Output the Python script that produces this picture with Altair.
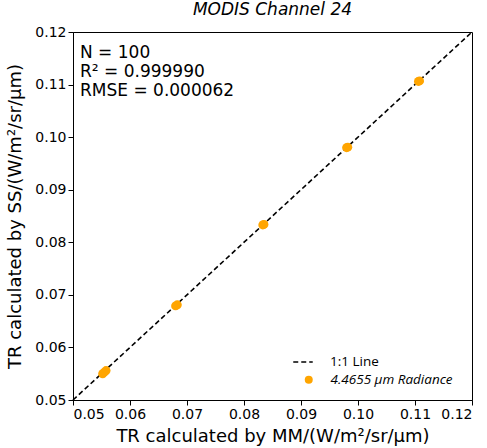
import altair as alt
import pandas as pd

# data
mm_vals = [0.0552, 0.0555, 0.0558, 0.0680, 0.0683, 0.0833, 0.0835, 0.0980, 0.0982, 0.1106, 0.1108]
ss_vals = [0.0550, 0.0553, 0.0556, 0.0679, 0.0681, 0.0833, 0.0834, 0.0980, 0.0981, 0.1106, 0.1107]
line_x = [0.05, 0.12]
stats_lines = ["N = 100", "R² = 0.999990", "RMSE = 0.000062"]
stats_y = [21, 40, 59]
x_ticks = [0.05, 0.06, 0.07, 0.08, 0.09, 0.10, 0.11, 0.12]

pts = pd.DataFrame({"mm": mm_vals, "ss": ss_vals, "series": ["4.4655 μm Radiance"] * len(mm_vals)})
ln = pd.DataFrame({"mm": line_x, "ss": line_x, "series": ["1:1 Line"] * 2})

W, H = 399, 368
xs = alt.Scale(domain=[0.05, 0.12], nice=False, zero=False)
ys = alt.Scale(domain=[0.05, 0.12], nice=False, zero=False)

axis_common = dict(labelFont="DejaVu Sans", labelFontSize=14, labelColor="black",
                   titleFont="DejaVu Sans", titleFontSize=18, titleFontWeight="normal",
                   titleColor="black", domainColor="black", tickColor="black",
                   tickSize=5, grid=False, values=x_ticks, format=".2f")

xenc = alt.X("mm:Q", scale=xs, axis=alt.Axis(title="TR calculated by MM/(W/m²/sr/μm)",
                                              titlePadding=6, **axis_common))
yenc = alt.Y("ss:Q", scale=ys, axis=alt.Axis(title="TR calculated by SS/(W/m²/sr/μm)",
                                              titlePadding=10, **axis_common))

line = alt.Chart(ln).mark_line(color="black", strokeDash=[6, 4], strokeWidth=1.6).encode(
    x=xenc, y=yenc,
    strokeDash=alt.StrokeDash("series:N", scale=alt.Scale(domain=["1:1 Line"], range=[[5, 3]]),
                              legend=alt.Legend(title=None, orient="none", legendX=219, legendY=319,
                                                labelFont="Open Sans", labelFontSize=13.5,
                                                labelColor="black", symbolStrokeColor="black",
                                                symbolStrokeWidth=1.6, symbolSize=380,
                                                labelOffset=16)),
)

points = alt.Chart(pts).mark_circle(size=80, opacity=1).encode(
    x=alt.X("mm:Q", scale=xs), y=alt.Y("ss:Q", scale=ys),
    color=alt.Color("series:N", scale=alt.Scale(domain=["4.4655 μm Radiance"], range=["#FFA500"]),
                    legend=alt.Legend(title=None, orient="none", legendX=229, legendY=341,
                                      labelFont="Open Sans", labelFontSize=13.5, labelColor="black",
                                      labelFontStyle="italic", symbolSize=64, labelOffset=15,
                                      symbolOpacity=1)),
)

texts = [
    alt.Chart(pd.DataFrame({"t": [s]})).mark_text(
        align="left", baseline="middle", font="DejaVu Sans", fontSize=17, color="black"
    ).encode(x=alt.value(7), y=alt.value(yv), text="t:N")
    for s, yv in zip(stats_lines, stats_y)
]

chart = alt.layer(line, points, *texts).properties(
    width=W, height=H,
    title=alt.Title("MODIS Channel 24", font="DejaVu Sans", fontSize=17, fontStyle="italic",
                    fontWeight="normal", color="black", offset=6),
    autosize=alt.AutoSizeParams(type="none"),
    padding={"left": 73, "top": 32, "right": 15, "bottom": 48},
).configure_view(stroke="black", strokeWidth=1)

chart.save("out.html", embed_options={"renderer": "svg", "actions": False})
